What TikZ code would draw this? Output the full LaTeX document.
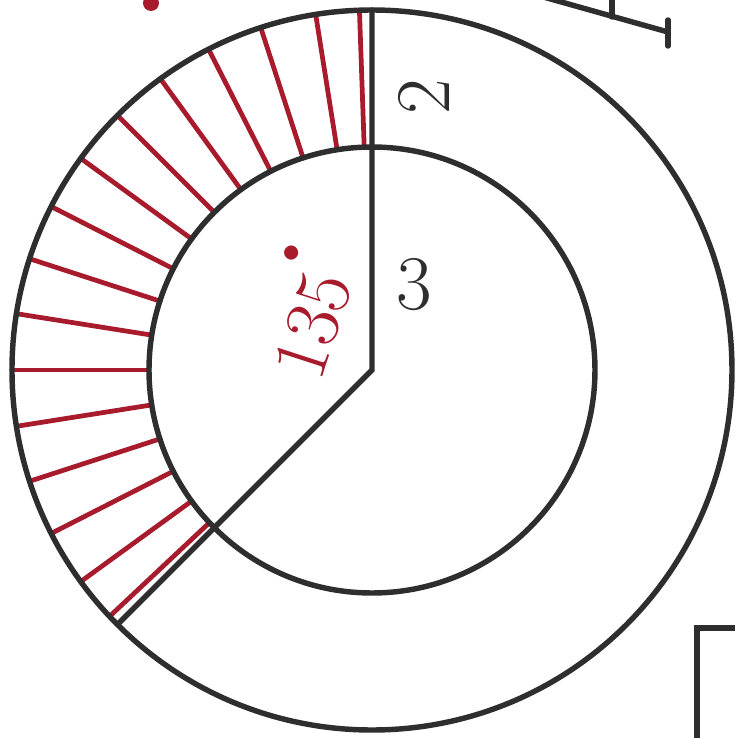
\documentclass[tikz,border=0pt]{standalone}
\usepackage{tikz}
\usetikzlibrary{calc}
\definecolor{Ink}{HTML}{2E2E2E}
\definecolor{Marker}{HTML}{A81B2C}
\tikzset{
  pen/.style={Ink, line width=3.1pt},
  hatch/.style={Marker, line width=2.7pt},
  digit/.style={font=\fontsize{44}{48}\selectfont, inner sep=0pt},
}

\begin{document}
\begin{tikzpicture}[x=0.02cm, y=0.02cm, line cap=round]
    \useasboundingbox (-372,-368) rectangle (363,370);
    \clip (-372,-368) rectangle (363,370);
    \def\ri{223}
    \def\ro{360}
    \coordinate (O) at (0,0);
    % shaded sector, 135 degrees
    \foreach \a in {99,108,...,216}
        \draw[hatch] (\a:\ri) -- (\a:\ro);
    \draw[hatch] (92:\ri) -- (92:\ro);
    \draw[hatch] (223.2:\ri) -- (223.2:\ro);
    \draw[pen] (O) circle[radius=\ro];
    \draw[pen] (O) circle[radius=\ri];
    \coordinate (top) at (90:\ro);
    \coordinate (low) at (225:\ro);
    \draw[pen] (top) -- (O) -- (low);
    \node[digit, Ink, rotate=90] (two) at (52,273) {2};
    \node[digit, Ink] (three) at (42,85) {3};
    \node[digit, Marker, rotate=72, anchor=base west] (angle) at (-52,-14)
        {135\raisebox{0.75em}{\fontsize{22}{22}\selectfont$\bullet$}};
    % bits of other figures at the edges
    \fill[Marker] (-221,367) circle[radius=8];
    \coordinate (rA) at (168,374);
    \coordinate (rB) at (296,338);
    \draw[pen] (rA) -- (rB);
    \draw[pen] (296,350) -- (296,324);
    \draw[pen] (240,375) -- (240,353);
    \draw[pen] (390,-258) -- (325,-258) -- (325,-390);
\end{tikzpicture}
\end{document}
